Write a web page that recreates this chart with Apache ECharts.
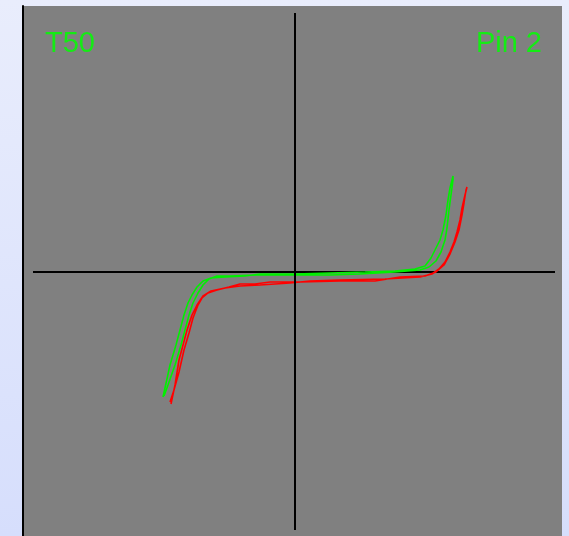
<!DOCTYPE html>
<html>
<head>
<meta charset="utf-8">
<title>T50 Pin 2</title>
<script src="https://cdn.jsdelivr.net/npm/echarts@6/dist/echarts.min.js"></script>
<style>
  html, body { margin: 0; padding: 0; }
  #chart { width: 569px; height: 536px; }
</style>
</head>
<body>
<div id="chart"></div>
<script>
// Curve-tracer capture, raw counts (x = stimulus, y = response), one loop per trace
const greenTrace = [
  [-132,-125],[-125,-93],[-119,-73],[-115,-58],[-111,-43],[-107,-31],[-103,-23],
  [-98,-15],[-92,-9],[-84,-6],[-70,-5],[-50,-4],[-35,-2],[0,-2],[35,-1],[70,0],
  [100,1],[120,3],[130,6],[136,14],[141,24],[145,32],[148,42],[151,57],[153,72],
  [155,84],[158,96],
  [158,92],[156,77],[154,62],[152,44],[150,32],[146,20],[141,11],[134,5],[125,2],
  [100,0],[65,-2],[35,-3],[0,-3],[-38,-3],[-65,-4],[-78,-4],[-86,-7],[-92,-13],
  [-97,-21],[-102,-31],[-106,-43],[-110,-58],[-114,-73],[-120,-93],[-127,-113],
  [-131,-124]
];
const redTrace = [
  [-124,-132],[-120,-113],[-116,-88],[-112,-73],[-108,-58],[-103,-43],[-98,-33],
  [-92,-24],[-84,-19],[-70,-16],[-55,-14],[-35,-13],[-5,-11],[15,-9],[45,-8],
  [90,-7],[125,-5],[137,-2],[144,3],[150,10],[155,20],[159,30],[162,40],[165,52],
  [167,64],[170,77],[172,85],
  [171,82],[169,69],[167,57],[164,42],[160,30],[155,18],[149,7],[141,0],[130,-4],
  [105,-5],[80,-9],[45,-9],[5,-10],[-25,-10],[-40,-12],[-55,-12],[-66,-15],
  [-78,-18],[-87,-21],[-93,-26],[-97,-33],[-102,-46],[-106,-61],[-111,-78],
  [-116,-100],[-121,-118],[-125,-130]
];
// Crosshair through the origin
const xCross = [[-262,0],[260,0]];
const yCross = [[0,259],[0,-258]];
// Panel captions
const leftCaption = 'T50';
const rightCaption = 'Pin 2';

const chart = echarts.init(document.getElementById('chart'), null, { renderer: 'canvas' });

chart.setOption({
  animation: false,
  backgroundColor: {
    type: 'linear', x: 0, y: 0, x2: 0, y2: 1,
    colorStops: [{ offset: 0, color: '#e9edfc' }, { offset: 1, color: '#d6defc' }]
  },
  grid: {
    left: 23, right: 7, top: 6, bottom: 0,
    show: true, backgroundColor: '#808080', borderWidth: 0
  },
  xAxis: {
    type: 'value', min: -272, max: 267,
    axisLine: { show: false }, axisTick: { show: false },
    axisLabel: { show: false }, splitLine: { show: false }
  },
  yAxis: {
    type: 'value', min: -264, max: 266,
    axisLine: { show: true, onZero: false, lineStyle: { color: '#000', width: 2 } },
    axisTick: { show: false }, axisLabel: { show: false }, splitLine: { show: false }
  },
  graphic: [
    {
      type: 'text', left: 45, top: 29,
      style: { text: leftCaption, fill: '#14ec14', font: '29px "Liberation Sans", Arial, sans-serif' }
    },
    {
      type: 'text', right: 27, top: 29,
      style: { text: rightCaption, fill: '#14ec14', font: '29px "Liberation Sans", Arial, sans-serif' }
    }
  ],
  series: [
    {
      type: 'line', data: xCross, showSymbol: false, silent: true, z: 1,
      lineStyle: { color: '#000', width: 2 }
    },
    {
      type: 'line', data: redTrace, showSymbol: false, silent: true, z: 2,
      lineStyle: { color: '#ff0000', width: 1.6 }
    },
    {
      type: 'line', data: greenTrace, showSymbol: false, silent: true, z: 3,
      lineStyle: { color: '#00f000', width: 1.6 }
    },
    {
      type: 'line', data: yCross, showSymbol: false, silent: true, z: 4,
      lineStyle: { color: '#000', width: 2 }
    }
  ]
});
</script>
</body>
</html>
